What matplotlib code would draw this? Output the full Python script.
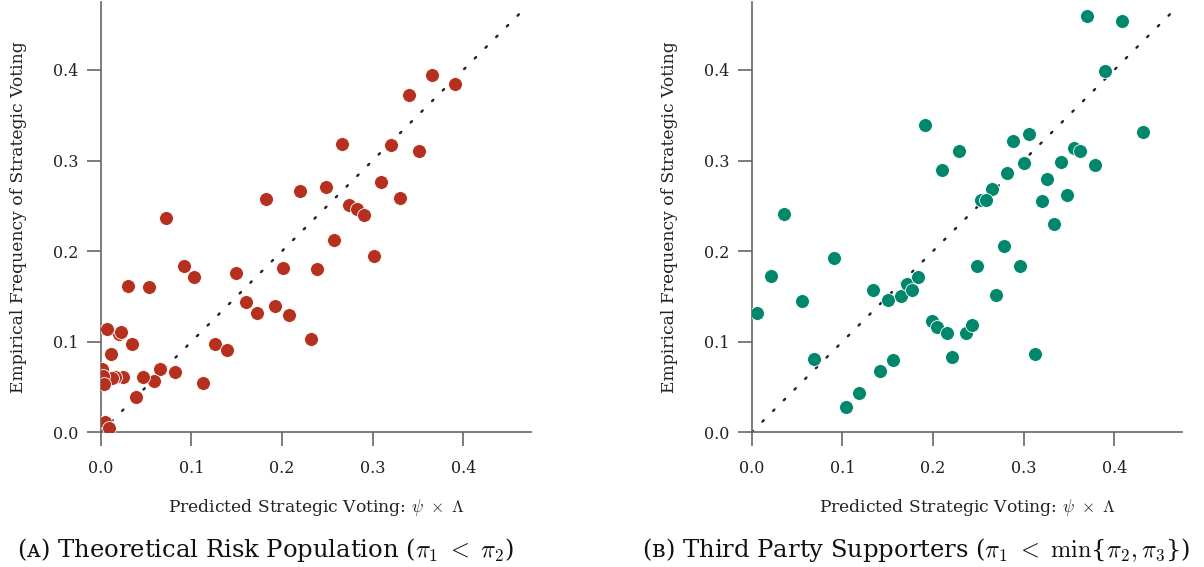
import matplotlib
matplotlib.use("Agg")
import matplotlib.pyplot as plt

plt.rcParams['font.family'] = ['DejaVu Serif', 'DejaVu Sans']
plt.rcParams['mathtext.fontset'] = 'cm'

# Panel A: Theoretical Risk Population
a_pred = [0.072, 0.182, 0.220, 0.248, 0.266, 0.274, 0.283, 0.291, 0.257, 0.309,
          0.320, 0.330, 0.351, 0.340, 0.366, 0.391, 0.301, 0.092, 0.103, 0.030,
          0.053, 0.149, 0.201, 0.239, 0.160, 0.172, 0.192, 0.208, 0.232, 0.126,
          0.139, 0.113, 0.082, 0.065, 0.059, 0.047, 0.039, 0.034, 0.025, 0.016,
          0.013, 0.020, 0.022, 0.007, 0.011, 0.001, 0.002, 0.004, 0.005, 0.009]
a_emp = [0.236, 0.258, 0.266, 0.271, 0.318, 0.251, 0.246, 0.240, 0.212, 0.276,
         0.317, 0.259, 0.311, 0.372, 0.394, 0.384, 0.195, 0.184, 0.171, 0.161,
         0.160, 0.176, 0.181, 0.180, 0.144, 0.132, 0.139, 0.129, 0.103, 0.098,
         0.091, 0.054, 0.067, 0.070, 0.057, 0.061, 0.039, 0.098, 0.061, 0.061,
         0.060, 0.108, 0.111, 0.114, 0.086, 0.070, 0.062, 0.053, 0.011, 0.005]

# Panel B: Third Party Supporters
b_pred = [0.370, 0.409, 0.390, 0.432, 0.191, 0.229, 0.210, 0.036, 0.288, 0.306,
          0.300, 0.282, 0.265, 0.253, 0.259, 0.326, 0.341, 0.355, 0.362, 0.379,
          0.320, 0.348, 0.334, 0.278, 0.091, 0.021, 0.006, 0.055, 0.069, 0.134,
          0.150, 0.165, 0.171, 0.177, 0.184, 0.249, 0.296, 0.270, 0.199, 0.204,
          0.215, 0.236, 0.243, 0.221, 0.312, 0.156, 0.141, 0.118, 0.104]
b_emp = [0.460, 0.454, 0.399, 0.331, 0.339, 0.311, 0.290, 0.241, 0.322, 0.329,
         0.297, 0.286, 0.269, 0.256, 0.256, 0.280, 0.298, 0.314, 0.311, 0.295,
         0.255, 0.262, 0.230, 0.206, 0.192, 0.173, 0.132, 0.145, 0.081, 0.157,
         0.146, 0.150, 0.164, 0.157, 0.171, 0.184, 0.184, 0.152, 0.123, 0.116,
         0.110, 0.110, 0.118, 0.083, 0.086, 0.080, 0.068, 0.043, 0.028]

ticks = [0.0, 0.1, 0.2, 0.3, 0.4]
tick_labels = ["0.0", "0.1", "0.2", "0.3", "0.4"]
diag = [0.0, 0.47]

xlabel = r"Predicted Strategic Voting: $\psi\ \times\ \Lambda$"
ylabel = "Empirical Frequency of Strategic Voting"
caption_a = r"(ᴀ) Theoretical Risk Population ($\pi_1\ <\ \pi_2$)"
caption_b = r"(ʙ) Third Party Supporters ($\pi_1\ <\ \mathrm{min}$" + "{" + r"$\pi_2, \pi_3$" + "})"

fig = plt.figure(figsize=(12.04, 5.67), dpi=100)
W, H = 1204, 567
lim = 0.475
specs = [
    (100.7, a_pred, a_emp, "#B5301E", caption_a, 265),
    (751.7, b_pred, b_emp, "#00876C", caption_b, 916),
]
for x0, xs, ys, col, cap, capx in specs:
    w = lim * 906.5
    h = lim * 906
    ax = fig.add_axes([x0 / W, (567 - 432.3) / H, w / W, h / H])
    ax.plot(diag, diag, linestyle=(0, (0.8, 5.6)), color="#222222", lw=1.7,
            dash_capstyle='round', zorder=1)
    ax.scatter(xs, ys, s=100, color=col, edgecolor="white", linewidth=0.6, zorder=3)
    ax.set_xlim(0, lim)
    ax.set_ylim(0, lim)
    ax.set_xticks(ticks)
    ax.set_xticklabels(tick_labels)
    ax.set_yticks(ticks)
    ax.set_yticklabels(tick_labels)
    for s in ["top", "right"]:
        ax.spines[s].set_visible(False)
    for s in ["left", "bottom"]:
        ax.spines[s].set_color("#666666")
        ax.spines[s].set_linewidth(1.2)
    ax.tick_params(axis="both", length=10, width=1.2, color="#666666",
                   labelsize=11.5, labelcolor="#222222")
    ax.tick_params(axis="x", pad=10)
    ax.tick_params(axis="y", pad=6)
    ax.set_xlabel(xlabel, fontsize=12.3, color="#222222", labelpad=14)
    ax.set_ylabel(ylabel, fontsize=12.3, color="#222222", labelpad=19)
    fig.text(capx / W, 1 - 550 / H, cap, fontsize=17.5, ha="center", va="center",
             color="#111111")

fig.savefig("out.png", dpi=100)
